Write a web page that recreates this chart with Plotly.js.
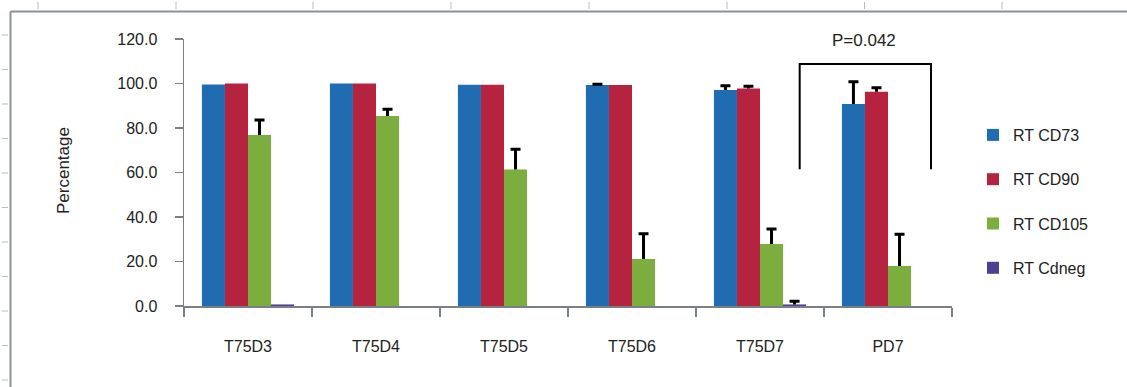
<!DOCTYPE html>
<html>
<head>
<meta charset="utf-8">
<script src="https://cdn.plot.ly/plotly-3.0.1.min.js"></script>
<style>html,body{margin:0;padding:0;background:#fff;}#chart{width:1127px;height:387px;}</style>
</head>
<body>
<div id="chart"></div>
<script>
// ---- data ----
const categories = ['T75D3', 'T75D4', 'T75D5', 'T75D6', 'T75D7', 'PD7'];
const seriesNames = ['RT CD73', 'RT CD90', 'RT CD105', 'RT Cdneg'];
const cd73 = [99.5, 100.0, 99.4, 99.3, 97.1, 90.8];
const cd73Err = [null, null, null, 0.4, 1.9, 10.0];
const cd90 = [100.0, 100.0, 99.4, 99.3, 97.8, 96.3];
const cd90Err = [null, null, null, null, 1.0, 1.8];
const cd105 = [76.8, 85.4, 61.4, 21.1, 27.9, 18.0];
const cd105Err = [6.8, 3.0, 9.0, 11.4, 6.7, 14.3];
const cdneg = [0.7, 0, 0, 0, 0.7, 0];
const cdnegErr = [null, null, null, null, 1.4, null];
const yTickVals = [0, 20, 40, 60, 80, 100, 120];
const pLabel = 'P=0.042';
const yTitle = 'Percentage';

// ---- layout geometry ----
const W = 1127, H = 387, ML = 184, MR = 175, MT = 39, MB = 81;
const PW = W - ML - MR, PH = H - MT - MB;
const px = x => (x - ML) / PW;
const py = y => (H - MB - y) / PH;

const colors = ['#1f6cb3', '#b5233f', '#7cae3f', '#4f3f94'];
const values = [cd73, cd90, cd105, cdneg];
const errs = [cd73Err, cd90Err, cd105Err, cdnegErr];
const FONT = 'Liberation Sans, Arial, sans-serif';

const traces = seriesNames.map((name, i) => ({
  type: 'bar',
  name: name,
  x: categories,
  y: values[i],
  legendgroup: 'g' + i,
  marker: {color: colors[i], line: {width: 0}},
  error_y: {type: 'data', symmetric: false,
            array: errs[i].map(v => v === null ? NaN : v),
            arrayminus: errs[i].map(v => v === null ? NaN : 0),
            color: '#000', thickness: 3, width: 5, visible: true},
  hoverinfo: 'skip'
}));

const shapes = [];
const frameColor = '#8a929c';
// frame lines
shapes.push({type: 'line', xref: 'paper', yref: 'paper', x0: px(10.5), x1: px(10.5), y0: py(11.5), y1: py(390), line: {color: frameColor, width: 2}});
shapes.push({type: 'line', xref: 'paper', yref: 'paper', x0: px(10.5), x1: px(1130), y0: py(11.5), y1: py(11.5), line: {color: frameColor, width: 2}});
// ruler ticks
[38, 176, 313, 451, 589, 727, 864.5, 1002].forEach(x => shapes.push({type: 'line', xref: 'paper', yref: 'paper', x0: px(x), x1: px(x), y0: py(2), y1: py(9), line: {color: '#b8bcc2', width: 1}}));
[35, 69.5, 104, 138.5, 173, 207.5, 242, 276.5, 311, 345.5, 380].forEach(y => shapes.push({type: 'line', xref: 'paper', yref: 'paper', x0: px(2), x1: px(8), y0: py(y), y1: py(y), line: {color: '#b8bcc2', width: 1}}));
// significance bracket
shapes.push({type: 'path', xref: 'x', yref: 'y',
  path: 'M 4.31,61.5 L 4.31,108.8 L 5.336,108.8 L 5.336,61.5', line: {color: '#000', width: 2}});

const layout = {
  width: W, height: H,
  margin: {l: ML, r: MR, t: MT, b: MB, pad: 0},
  paper_bgcolor: '#fff', plot_bgcolor: '#fff',
  font: {family: FONT, size: 16, color: '#222'},
  barmode: 'group', bargap: 0.28, bargroupgap: 0,
  showlegend: true,
  legend: {x: px(973), xanchor: 'left', y: py(118), yanchor: 'top',
           font: {family: FONT, size: 16, color: '#222'}, traceorder: 'grouped',
           tracegroupgap: 20.5, bgcolor: 'rgba(0,0,0,0)'},
  xaxis: {type: 'category', tickson: 'boundaries', ticks: 'outside', ticklen: 9, tickwidth: 1.5,
          tickcolor: '#7a7f86', showline: true, linecolor: '#7a7f86', linewidth: 1.5,
          showgrid: false, zeroline: false, ticklabelstandoff: 25,
          tickfont: {family: FONT, size: 16, color: '#222'}, fixedrange: true},
  yaxis: {range: [0, 120], tickvals: yTickVals, tickformat: '.1f', ticks: 'outside', ticklen: 8,
          tickwidth: 1.5, tickcolor: '#7a7f86', showline: true, linecolor: '#7a7f86', linewidth: 1.5,
          showgrid: false, zeroline: false, ticklabelstandoff: 14,
          tickfont: {family: FONT, size: 16, color: '#222'}, fixedrange: true},
  shapes: shapes,
  annotations: [
    {xref: 'x', yref: 'y', x: 4.81, y: 119.2, text: pLabel, showarrow: false,
     xanchor: 'center', yanchor: 'middle', font: {family: FONT, size: 17, color: '#222'}},
    {xref: 'paper', yref: 'paper', x: px(63), y: py(171), text: yTitle, textangle: -90, showarrow: false,
     xanchor: 'center', yanchor: 'middle', font: {family: FONT, size: 17, color: '#222'}}
  ]
};

Plotly.newPlot('chart', traces, layout, {displayModeBar: false, staticPlot: true}).then(gd => {
  // upper-only error bars: drop the lower "shoe" so each bar reads as a T
  gd.querySelectorAll('g.errorbar path.yerror').forEach(p => {
    const d = p.getAttribute('d');
    if (d) p.setAttribute('d', d.replace(/(V[-\d.e]+)m.*$/i, '$1'));
  });
});
</script>
</body>
</html>
